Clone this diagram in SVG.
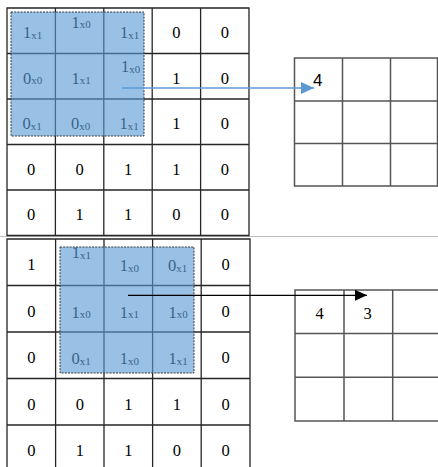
<svg xmlns="http://www.w3.org/2000/svg" width="438" height="467" viewBox="0 0 438 467">
<style>
.g{fill:none;stroke:#262626;stroke-width:1.3}
.r{fill:none;stroke:#555;stroke-width:1.5}
.t{font-family:"Liberation Serif","Times New Roman",serif;font-size:16.5px;fill:#000;text-anchor:middle}
.s{font-size:11px}
.hl{fill:#5B9BD5;fill-opacity:0.62;stroke:#3a3a3a;stroke-width:1;stroke-dasharray:2 1.2}
.sans{font-family:"Liberation Sans",Arial,sans-serif;font-size:17px;fill:#000}
</style>
<defs>
<marker id="ab" markerUnits="userSpaceOnUse" markerWidth="13" markerHeight="12" refX="13" refY="6" orient="auto"><path d="M0,0 L13,6 L0,12 z" fill="#5B9BD5"/></marker>
<marker id="ak" markerUnits="userSpaceOnUse" markerWidth="12" markerHeight="11" refX="12" refY="5.5" orient="auto"><path d="M0,0 L12,5.5 L0,11 z" fill="#000"/></marker>
</defs>
<rect width="438" height="467" fill="#fff"/>
<line x1="0" y1="236.5" x2="438" y2="236.5" stroke="#bdbdbd" stroke-width="1"/>

<g id="input-top">
<path class="g" d="M7,8H249V235.5H7Z M55.4,8V235.5 M103.8,8V235.5 M152.2,8V235.5 M200.6,8V235.5 M7,53.5H249 M7,99H249 M7,144.5H249 M7,190H249"/>
<text class="t" x="32.5" y="38.3">1<tspan class="s" dy="0.5">x1</tspan></text>
<text class="t" x="81" y="27.7">1<tspan class="s" dy="0.5">x0</tspan></text>
<text class="t" x="129.5" y="38.3">1<tspan class="s" dy="0.5">x1</tspan></text>
<text class="t" x="176.4" y="38.3">0</text>
<text class="t" x="224.8" y="38.3">0</text>
<text class="t" x="32.5" y="83.8">0<tspan class="s" dy="0.5">x0</tspan></text>
<text class="t" x="81" y="83.8">1<tspan class="s" dy="0.5">x1</tspan></text>
<text class="t" x="130.5" y="72.3">1<tspan class="s" dy="0.5">x0</tspan></text>
<text class="t" x="176.4" y="83.8">1</text>
<text class="t" x="224.8" y="83.8">0</text>
<text class="t" x="32" y="129.3">0<tspan class="s" dy="0.5">x1</tspan></text>
<text class="t" x="80.5" y="129.3">0<tspan class="s" dy="0.5">x0</tspan></text>
<text class="t" x="129" y="129.3">1<tspan class="s" dy="0.5">x1</tspan></text>
<text class="t" x="176.4" y="129.3">1</text>
<text class="t" x="224.8" y="129.3">0</text>
<text class="t" x="31.2" y="174.8">0</text>
<text class="t" x="79.6" y="174.8">0</text>
<text class="t" x="128" y="174.8">1</text>
<text class="t" x="176.4" y="174.8">1</text>
<text class="t" x="224.8" y="174.8">0</text>
<text class="t" x="31.2" y="220.3">0</text>
<text class="t" x="79.6" y="220.3">1</text>
<text class="t" x="128" y="220.3">1</text>
<text class="t" x="176.4" y="220.3">0</text>
<text class="t" x="224.8" y="220.3">0</text>
<rect id="kernel-top" class="hl" x="11" y="12" width="133" height="124"/>
</g>

<g id="input-bottom">
<path class="g" d="M7,239H250V472H7Z M55.6,239V472 M104,239V472 M152.6,239V472 M201.2,239V472 M7,285.5H250 M7,332H250 M7,378.5H250 M7,425H250"/>
<text class="t" x="31.3" y="270.3">1</text>
<text class="t" x="81.3" y="258">1<tspan class="s" dy="0.5">x1</tspan></text>
<text class="t" x="129.3" y="271.3">1<tspan class="s" dy="0.5">x0</tspan></text>
<text class="t" x="177.5" y="271.3">0<tspan class="s" dy="0.5">x1</tspan></text>
<text class="t" x="225.6" y="270.3">0</text>
<text class="t" x="31.3" y="316.8">0</text>
<text class="t" x="81" y="317.5">1<tspan class="s" dy="0.5">x0</tspan></text>
<text class="t" x="129.3" y="317.5">1<tspan class="s" dy="0.5">x1</tspan></text>
<text class="t" x="178" y="317.5">1<tspan class="s" dy="0.5">x0</tspan></text>
<text class="t" x="225.6" y="316.8">0</text>
<text class="t" x="31.3" y="363.3">0</text>
<text class="t" x="81" y="364">0<tspan class="s" dy="0.5">x1</tspan></text>
<text class="t" x="129.3" y="364">1<tspan class="s" dy="0.5">x0</tspan></text>
<text class="t" x="178" y="364">1<tspan class="s" dy="0.5">x1</tspan></text>
<text class="t" x="225.6" y="363.3">0</text>
<text class="t" x="31.3" y="409.8">0</text>
<text class="t" x="79.8" y="409.8">0</text>
<text class="t" x="128.3" y="409.8">1</text>
<text class="t" x="176.9" y="409.8">1</text>
<text class="t" x="225.6" y="409.8">0</text>
<text class="t" x="31.3" y="455.5">0</text>
<text class="t" x="79.8" y="455.5">1</text>
<text class="t" x="128.3" y="455.5">1</text>
<text class="t" x="176.9" y="455.5">0</text>
<text class="t" x="225.6" y="455.5">0</text>
<rect id="kernel-bottom" class="hl" x="60" y="247" width="134" height="126"/>
</g>

<g id="output-top">
<path class="r" d="M294.5,58H437.5V186H294.5Z M342.5,58V186 M390.5,58V186 M294.5,101H437.5 M294.5,143.5H437.5"/>
<text class="sans" x="313" y="86">4</text>
</g>

<g id="output-bottom">
<path class="r" d="M295,290H442V421H295Z M344,290V421 M392.7,290V421 M295,333.5H442 M295,377.3H442"/>
<text class="t" x="319.5" y="319">4</text>
<text class="t" x="367.5" y="318.5">3</text>
</g>

<g id="connectors">
<line x1="122" y1="88" x2="314" y2="88" stroke="#5B9BD5" stroke-width="1.5" marker-end="url(#ab)"/>
<line x1="128" y1="295.3" x2="367" y2="295.3" stroke="#000" stroke-width="1.3" marker-end="url(#ak)"/>
</g>
</svg>
